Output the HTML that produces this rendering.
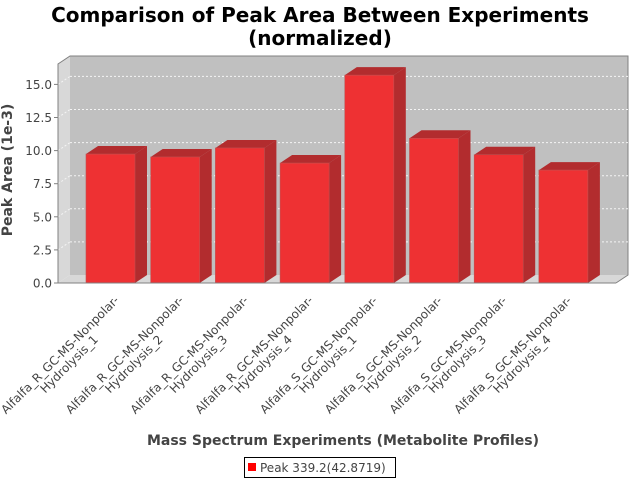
<!DOCTYPE html>
<html><head><meta charset="utf-8"><style>
body{margin:0;background:#fff}
svg{display:block;font-family:"DejaVu Sans","Liberation Sans",sans-serif}
</style></head><body>
<svg width="640" height="480" viewBox="0 0 640 480">
<text x="320" y="22" text-anchor="middle" font-size="20" font-weight="bold" fill="#000">Comparison of Peak Area Between Experiments</text>
<text x="320" y="45" text-anchor="middle" font-size="20" font-weight="bold" fill="#000">(normalized)</text>
<g id="plot">
<polygon points="58,283 70,275 70,56 58,64" fill="#d8d8d8"/>
<polygon points="58,283 616,283 628,275 70,275" fill="#d8d8d8"/>
<rect x="70" y="56" width="558" height="219" fill="#c0c0c0"/>
<polyline points="58,283 58,64 70,56 628,56 628,275 616,283" fill="none" stroke="#808080" stroke-width="1"/>
<g id="grid"></g>
<g id="bars"></g>
<line x1="58" y1="283" x2="616" y2="283" stroke="#808080"/>
<line x1="58" y1="64" x2="58" y2="283" stroke="#808080"/>
<g id="yticks"></g>
<g id="xlabels"></g>
</g>
<text transform="translate(12,170) rotate(-90)" text-anchor="middle" font-size="14" font-weight="bold" fill="#444">Peak Area (1e-3)</text>
<text x="343" y="445" text-anchor="middle" font-size="14" font-weight="bold" fill="#444">Mass Spectrum Experiments (Metabolite Profiles)</text>
<g>
<rect x="244.5" y="457.5" width="151" height="20" fill="#fff" stroke="#000"/>
<rect x="248" y="463" width="8" height="8" fill="#ff0000"/>
<text x="260" y="472" font-size="12" fill="#444">Peak 339.2(42.8719)</text>
</g>
</svg>
<script>
const categories=["Alfalfa_R_GC-MS-Nonpolar-Hydrolysis_1","Alfalfa_R_GC-MS-Nonpolar-Hydrolysis_2","Alfalfa_R_GC-MS-Nonpolar-Hydrolysis_3","Alfalfa_R_GC-MS-Nonpolar-Hydrolysis_4","Alfalfa_S_GC-MS-Nonpolar-Hydrolysis_1","Alfalfa_S_GC-MS-Nonpolar-Hydrolysis_2","Alfalfa_S_GC-MS-Nonpolar-Hydrolysis_3","Alfalfa_S_GC-MS-Nonpolar-Hydrolysis_4"];
const peakValues=[9.74,9.52,10.2,9.06,15.7,10.93,9.69,8.53];
const yTicks=[0,2.5,5,7.5,10,12.5,15];
const yTickLabels=["0.0","2.5","5.0","7.5","10.0","12.5","15.0"];
const NS="http://www.w3.org/2000/svg";
const X0=58,Y0=283,PX=13.24,DX=12,DY=8,BW=49,STEP=64.7,B0=86;
function y(v){return Y0-v*PX;}
function bx(i){return B0+i*STEP;}
function mk(tag,attrs,parent){const e=document.createElementNS(NS,tag);for(const k in attrs)e.setAttribute(k,attrs[k]);parent.appendChild(e);return e;}
const grid=document.getElementById('grid'),bars=document.getElementById('bars'),yt=document.getElementById('yticks'),xl=document.getElementById('xlabels');
yTicks.forEach((t,k)=>{
  if(t>0){const g=mk('line',{x1:X0,y1:y(t),x2:X0+DX,y2:y(t)-DY,stroke:'#f4f4f4','stroke-dasharray':'2,2'},grid);
  
  
  const g2=mk('line',{x1:X0+DX,y1:y(t)-DY,x2:628,y2:y(t)-DY,stroke:'#f4f4f4','stroke-dasharray':'2,2'},grid);
  
  }
  const tk=mk('line',{x1:X0-4,y1:y(t),x2:X0,y2:y(t),stroke:'#808080'},yt);
  
  
  const tl=mk('text',{x:X0-6,y:y(t)+4.5,'text-anchor':'end','font-size':'12',fill:'#444'},yt);
  tl.textContent=yTickLabels[k];
  
  
});
peakValues.forEach((v,i)=>{
  const x=bx(i),top=y(v);
  const g=mk('g',{},bars);
  
  
  mk('polygon',{points:`${x+BW},${Y0} ${x+BW+DX},${Y0-DY} ${x+BW+DX},${top-DY} ${x+BW},${top}`,fill:'#b22c2e'},g);
  mk('polygon',{points:`${x},${top} ${x+DX},${top-DY} ${x+BW+DX},${top-DY} ${x+BW},${top}`,fill:'#b22c2e'},g);
  mk('rect',{x:x,y:top,width:BW,height:Y0-top,fill:'#ee3133',stroke:'#c05050','stroke-width':'0.6'},g);
  const parts=categories[i].split('Hydrolysis');
  const cx=60+i*STEP,cy=355;
  const t=mk('text',{transform:`translate(${cx},${cy}) rotate(-45)`,'text-anchor':'middle','font-size':'12',fill:'#444'},xl);
  
  
  const s1=mk('tspan',{x:0,y:4},t);s1.textContent=parts[0];
  const s2=mk('tspan',{x:0,y:17},t);s2.textContent='Hydrolysis'+parts[1];
});
</script>
</body></html>
